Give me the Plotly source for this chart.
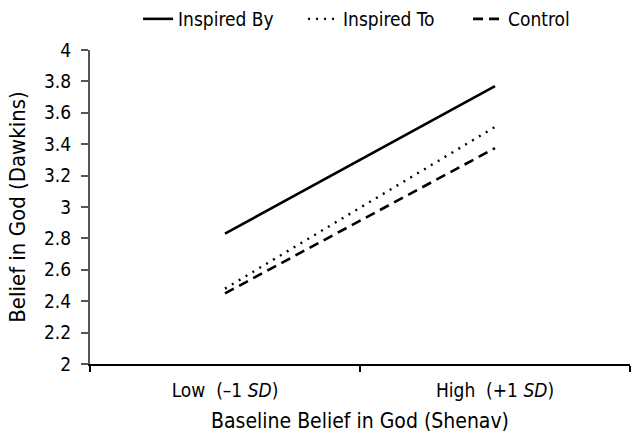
import plotly.graph_objects as go

categories = ["Low  (–1 <i>SD</i>)", "High  (+1 <i>SD</i>)"]
series_names = ["Inspired By", "Inspired To", "Control"]
inspired_by = [2.83, 3.77]
inspired_to = [2.48, 3.51]
control = [2.45, 3.375]
y_ticks = [2, 2.2, 2.4, 2.6, 2.8, 3, 3.2, 3.4, 3.6, 3.8, 4]
y_ticklabels = ["2", "2.2", "2.4", "2.6", "2.8", "3", "3.2", "3.4", "3.6", "3.8", "4"]

FONT = "DejaVu Sans Condensed, Liberation Sans Narrow, sans-serif"

fig = go.Figure()
styles = [("solid", 2.6), ("2px,6px", 2.4), ("10px,6px", 2.6)]
for name, vals, (dash, w) in zip(series_names, [inspired_by, inspired_to, control], styles):
    fig.add_trace(go.Scatter(
        x=categories, y=vals, mode="lines", name=name,
        line=dict(color="black", width=w, dash=dash),
    ))

fig.update_layout(
    width=632, height=444,
    margin=dict(l=90, r=2, t=50, b=80, autoexpand=False),
    paper_bgcolor="white", plot_bgcolor="white",
    font=dict(family=FONT, size=19, color="black"),
    showlegend=True,
    legend=dict(orientation="h", x=0.089, xanchor="left", y=1.0, yanchor="top",
                yref="container", font=dict(size=19), itemwidth=30,
                entrywidth=120, entrywidthmode="pixels",
                bgcolor="rgba(0,0,0,0)"),
    xaxis=dict(
        type="category", range=[-0.5, 1.5], tickson="boundaries", automargin=False,
        ticks="outside", ticklen=6, tickcolor="black", tickwidth=1.5,
        showline=True, linecolor="black", linewidth=2,
        showgrid=False, zeroline=False, ticklabelstandoff=8,
        title=dict(text="Baseline Belief in God (Shenav)", font=dict(size=21), standoff=14),
        tickfont=dict(size=19),
    ),
    yaxis=dict(
        range=[2, 4], tickvals=y_ticks, ticktext=y_ticklabels, automargin=False,
        ticks="outside", ticklen=7, tickcolor="#555555", tickwidth=1.5,
        showline=True, linecolor="#555555", linewidth=2,
        showgrid=False, zeroline=False, ticklabelstandoff=6,
        title=dict(text="Belief in God (Dawkins)", font=dict(size=22), standoff=12),
        tickfont=dict(size=19),
    ),
)

fig.write_html("out.html", config={"displayModeBar": False},
               post_script="document.body.style.margin='0';")
